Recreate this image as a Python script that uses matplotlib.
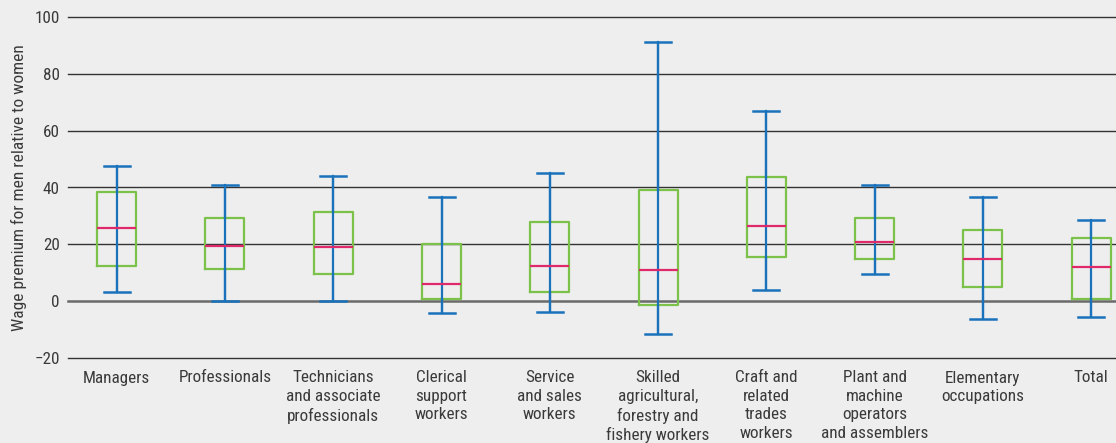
import matplotlib
matplotlib.use("Agg")
import matplotlib.pyplot as plt
from matplotlib import font_manager

names = sorted({f.name for f in font_manager.fontManager.ttflist})

categories = ["Managers", "Professionals", "Technicians\nand associate\nprofessionals",
              "Clerical\nsupport\nworkers", "Service\nand sales\nworkers",
              "Skilled\nagricultural,\nforestry and\nfishery workers",
              "Craft and\nrelated\ntrades\nworkers", "Plant and\nmachine\noperators\nand assemblers",
              "Elementary\noccupations", "Total"]
whisker_low = [3.3, 0.0, 0.0, -4.1, -3.8, -11.7, 4.0, 9.7, -6.2, -5.7]
box_low =     [12.2, 11.3, 9.5, 0.9, 3.2, -1.4, 15.5, 15.0, 4.9, 0.7]
median =      [25.6, 19.5, 19.0, 6.0, 12.4, 11.1, 26.4, 20.8, 14.7, 12.1]
box_high =    [38.4, 29.4, 31.5, 20.0, 27.9, 39.1, 43.6, 29.4, 24.9, 22.1]
whisker_high = [47.5, 40.8, 44.1, 36.8, 45.0, 91.1, 67.0, 40.9, 36.6, 28.6]
yticks = [-20, 0, 20, 40, 60, 80, 100]
ytick_labels = ["\u221220", "0", "20", "40", "60", "80", "100"]

fam = ["Liberation Sans Narrow", "Roboto Condensed", "Open Sans Condensed", "DejaVu Sans"]
avail = [f for f in fam if f in names] or ["DejaVu Sans"]
plt.rcParams['font.family'] = avail

bg = "#eeeeee"
txt = "#3a3a3a"
fig = plt.figure(figsize=(11.16, 4.43), dpi=100, facecolor=bg)
ax = fig.add_axes([68/1116, 1-358/443, 1-68/1116, (358-17)/443])
ax.set_facecolor(bg)

stats = []
for i, c in enumerate(categories):
    stats.append(dict(label=c, whislo=whisker_low[i], q1=box_low[i], med=median[i],
                      q3=box_high[i], whishi=whisker_high[i], fliers=[]))
pos = list(range(len(categories)))
blue = "#1a72bb"
ax.bxp(stats, positions=pos, widths=0.36, showfliers=False,
       boxprops=dict(color="#7cc24a", linewidth=1.6, zorder=3),
       whiskerprops=dict(color=blue, linewidth=1.6, zorder=4),
       capprops=dict(color=blue, linewidth=1.8, zorder=4),
       medianprops=dict(color="#e0296b", linewidth=1.6, zorder=5),
       capwidths=0.24, manage_ticks=False)
# whisker line runs through the box
ax.vlines(pos, whisker_low, whisker_high, color=blue, linewidth=1.6, zorder=4)

for y in yticks:
    if y == 0:
        ax.axhline(y, color="#6a6a6a", linewidth=1.8, zorder=1, clip_on=False)
    else:
        ax.axhline(y, color="#333333", linewidth=1.0, zorder=1, clip_on=False)

ax.set_xlim(-0.45, 9.23)
ax.set_ylim(-20, 100)
ax.set_yticks(yticks)
ax.set_yticklabels(ytick_labels)
ax.set_xticks(pos)
ax.set_xticklabels(categories, linespacing=1.28)
ax.tick_params(axis='both', length=0, labelsize=12.3, colors=txt)
ax.tick_params(axis='y', pad=6)
ax.tick_params(axis='x', pad=9)
for s in ax.spines.values():
    s.set_visible(False)
ax.set_ylabel("Wage premium for men relative to women", fontsize=12.5, color=txt, labelpad=5)

fig.savefig("out.png", dpi=100, facecolor=bg)
